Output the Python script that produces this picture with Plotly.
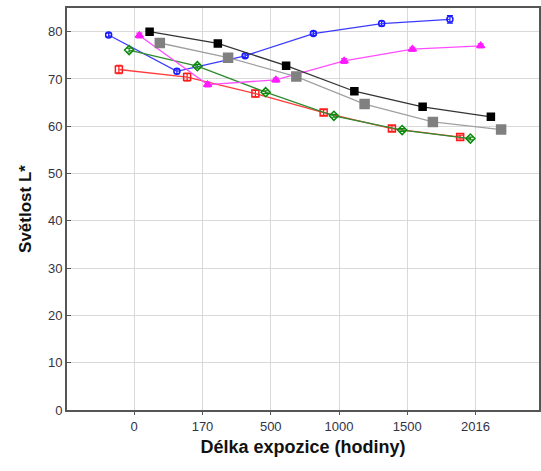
import plotly.graph_objects as go

categories = ["0", "170", "500", "1000", "1500", "2016"]

blue_vals = [79.3, 71.6, 74.9, 79.6, 81.7, 82.6]
blue_err = [0.4, 0.5, 0.4, 0.4, 0.5, 0.8]
red_vals = [72.0, 70.4, 66.9, 62.9, 59.5, 57.7]
red_err = [0.9, 0.8, 0.7, 0.6, 0.6, 0.4]
green_vals = [76.1, 72.7, 67.2, 62.2, 59.2, 57.4]
green_err = [0.4, 0.4, 0.3, 0.3, 0.3, 0.3]
magenta_vals = [79.2, 68.8, 69.8, 73.8, 76.3, 77.0]
magenta_err = [0.5, 0.5, 0.4, 0.5, 0.4, 0.4]
black_vals = [80.0, 77.5, 72.8, 67.4, 64.1, 62.0]
gray_vals = [77.6, 74.5, 70.5, 64.7, 60.9, 59.3]

series = [
    ("blue", blue_vals, blue_err, "#1a1aff", "#3a3aff", "circle-open", 6),
    ("red", red_vals, red_err, "#ff1a1a", "#ff3b3b", "square-open", 7),
    ("green", green_vals, green_err, "#0a8a0a", "#2e8b2e", "diamond-open", 7),
    ("magenta", magenta_vals, magenta_err, "#ff1aff", "#ff4dff", "triangle-up", 7),
    ("black", black_vals, None, "#000000", "#333333", "square", 7),
    ("gray", gray_vals, None, "#808080", "#a0a0a0", "square", 9),
]
offsets = [-0.375, -0.225, -0.075, 0.075, 0.225, 0.375]

fig = go.Figure()
for (name, vals, err, mcol, lcol, sym, size), off in zip(series, offsets):
    xs = [i + off for i in range(len(categories))]
    tr = dict(
        x=xs, y=vals, mode="lines+markers", name=name,
        line=dict(color=lcol, width=1.3),
        marker=dict(symbol=sym, size=size, color=mcol,
                    line=dict(color=mcol, width=1.5)),
    )
    if err is not None:
        tr["error_y"] = dict(type="data", array=err, visible=True,
                             color=mcol, thickness=1.2, width=3)
    fig.add_trace(go.Scatter(**tr))

fig.update_layout(
    width=541, height=471,
    margin=dict(l=67, r=0, t=8, b=61),
    plot_bgcolor="white", paper_bgcolor="white",
    showlegend=False,
    font=dict(family="Liberation Sans, Arial", color="#333344"),
)
fig.update_xaxes(
    range=[-0.985, 5.93],
    tickmode="array", tickvals=list(range(len(categories))), ticktext=categories,
    showgrid=True, gridcolor="#d9d9d9", gridwidth=1,
    showline=True, linecolor="#555555", linewidth=2, mirror=True,
    ticks="outside", ticklen=3, tickcolor="#555555",
    tickfont=dict(size=13, color="#333344"),
    zeroline=False,
    title=dict(text="<b>Délka expozice (hodiny)</b>",
               font=dict(size=18, color="#111111"), standoff=8),
)
fig.update_yaxes(
    range=[0, 85], tickmode="linear", tick0=0, dtick=10,
    showgrid=True, gridcolor="#d9d9d9", gridwidth=1,
    showline=True, linecolor="#555555", linewidth=2, mirror=True,
    ticks="inside", ticklen=4, tickcolor="#555555",
    tickfont=dict(size=13, color="#333344"),
    zeroline=False,
    title=dict(text="<b>Světlost L*</b>",
               font=dict(size=17, color="#111111"), standoff=12),
)

fig.write_html("out.html", config={"displayModeBar": False},
               post_script="document.body.style.margin='0';")
